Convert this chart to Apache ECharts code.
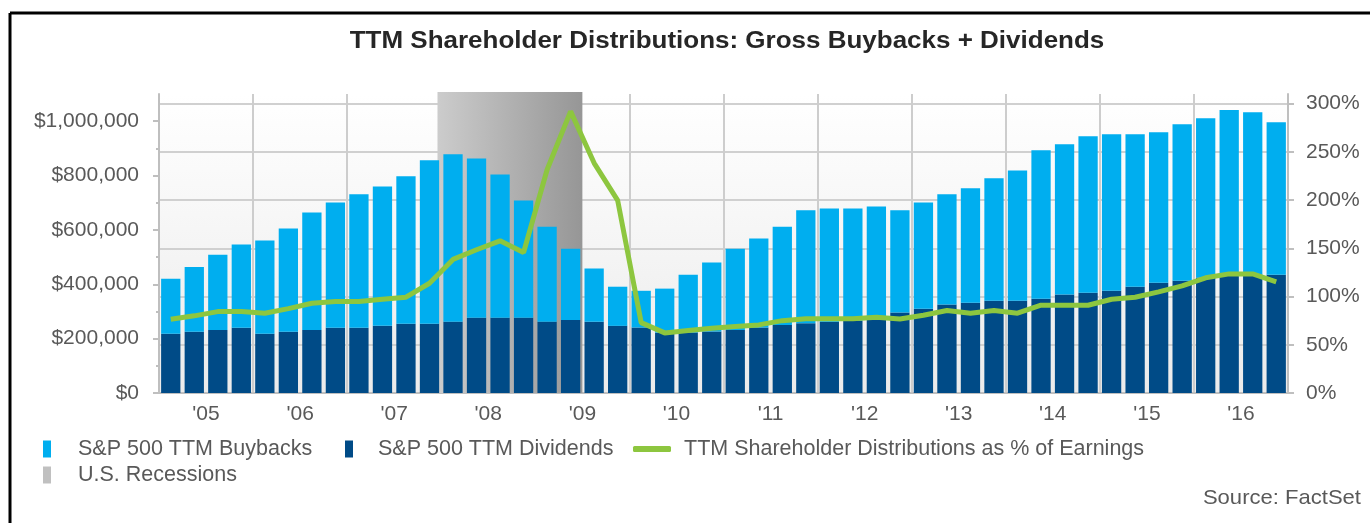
<!DOCTYPE html>
<html>
<head>
<meta charset="utf-8">
<script src="https://cdn.jsdelivr.net/npm/echarts@6/dist/echarts.min.js"></script>
<style>
  html, body { margin: 0; padding: 0; background: #fff; }
  #chart { width: 1370px; height: 523px; }
</style>
</head>
<body>
<div id="chart"></div>
<script>
// quarterly categories, 1Q05 .. 4Q16
const quarters = [
  '1Q05','2Q05','3Q05','4Q05','1Q06','2Q06','3Q06','4Q06',
  '1Q07','2Q07','3Q07','4Q07','1Q08','2Q08','3Q08','4Q08',
  '1Q09','2Q09','3Q09','4Q09','1Q10','2Q10','3Q10','4Q10',
  '1Q11','2Q11','3Q11','4Q11','1Q12','2Q12','3Q12','4Q12',
  '1Q13','2Q13','3Q13','4Q13','1Q14','2Q14','3Q14','4Q14',
  '1Q15','2Q15','3Q15','4Q15','1Q16','2Q16','3Q16','4Q16'
];
const yearLabels = ["'05","'06","'07","'08","'09","'10","'11","'12","'13","'14","'15","'16"];

// TTM dividends and buybacks, $ (millions in source)
const dividends = [
  218000, 225000, 232000, 240000, 218000, 225000, 232000, 240000,
  240000, 247000, 255000, 255000, 262000, 277000, 277000, 277000,
  262000, 269000, 262000, 247000, 241000, 222000, 223000, 226000,
  232000, 241000, 250000, 257000, 262000, 266000, 272000, 296000,
  310000, 326000, 332000, 339000, 339000, 347000, 362000, 369000,
  376000, 391000, 406000, 413000, 425000, 435000, 435000, 435000
];
const buybacks = [
  202000, 239000, 277000, 306000, 343000, 380000, 432000, 461000,
  491000, 513000, 542000, 601000, 616000, 586000, 527000, 431000,
  350000, 262000, 196000, 144000, 135000, 162000, 212000, 254000,
  299000, 327000, 362000, 415000, 417000, 413000, 414000, 376000,
  391000, 405000, 421000, 451000, 480000, 546000, 553000, 576000,
  576000, 561000, 553000, 576000, 586000, 606000, 598000, 561000
];
// distributions as % of earnings
const pctEarnings = [
  76.5, 80, 84.4, 84.4, 82.7, 87.5, 93, 94.8,
  94.8, 97.2, 99.3, 113.8, 138.5, 148.5, 157.8, 145.7,
  231.5, 292, 238.4, 199.7, 73, 62.3, 64.7, 67.1,
  68.9, 70.6, 75, 77.1, 77.1, 77.1, 78.5, 76.8,
  80.6, 85.5, 82.7, 85.5, 82.7, 91, 91, 91,
  97.2, 99.3, 104.8, 111, 119.4, 123.5, 123.5, 115.2
];
// recession span in fractional years
const recession = [2007.96, 2009.5];

const leftTicks = [0, 200000, 400000, 600000, 800000, 1000000];
const rightTicks = [0, 50, 100, 150, 200, 250, 300];

const FONT = 'Liberation Sans, Arial, sans-serif';
const LABEL = '#595959';
const AXIS = '#bfbfbf';

const chart = echarts.init(document.getElementById('chart'));

function money(v) {
  return '$' + String(v).replace(/\B(?=(\d{3})+(?!\d))/g, ',');
}

const legendBase = {
  orient: 'horizontal',
  selectedMode: false,
  itemGap: 0,
  padding: 0,
  textStyle: { color: LABEL, fontSize: 21.5, fontFamily: FONT }
};

function legendAt(name, icon, left, top, w, h, pad) {
  return Object.assign({}, legendBase, {
    left: left, top: top, itemWidth: w, itemHeight: h,
    data: [{ name: name, icon: icon }],
    textStyle: Object.assign({}, legendBase.textStyle, { padding: [0, 0, 0, pad] })
  });
}

chart.setOption({
  animation: false,
  textStyle: { fontFamily: FONT },
  grid: {
    left: 159, right: 82, top: 94, bottom: 130,
    show: true, borderWidth: 0,
    backgroundColor: new echarts.graphic.LinearGradient(0, 0, 0, 1, [
      { offset: 0, color: '#ffffff' },
      { offset: 1, color: '#ebebeb' }
    ])
  },
  graphic: [
    { type: 'line', shape: { x1: 10, y1: 13, x2: 1372, y2: 13 }, style: { stroke: '#000', lineWidth: 3 } },
    { type: 'line', shape: { x1: 10, y1: 13, x2: 10, y2: 525 }, style: { stroke: '#000', lineWidth: 3 } },
    {
      type: 'text', x: 727, y: 42, scaleX: 1.13,
      style: {
        text: 'TTM Shareholder Distributions: Gross Buybacks + Dividends',
        fontSize: 23, fontWeight: 'bold', fontFamily: FONT, fill: '#262626',
        textAlign: 'center', textVerticalAlign: 'middle'
      }
    },
    {
      type: 'text', x: 1361, y: 498, scaleX: 1.05,
      style: {
        text: 'Source: FactSet', fontSize: 21, fontFamily: FONT, fill: LABEL,
        textAlign: 'right', textVerticalAlign: 'middle'
      }
    }
  ],
  legend: [
    legendAt('S&P 500 TTM Buybacks', 'rect', 43, 438, 8, 17, 22),
    legendAt('S&P 500 TTM Dividends', 'rect', 345, 438, 8, 17, 20),
    legendAt('TTM Shareholder Distributions as % of Earnings', 'roundRect', 633, 438, 38, 6, 8),
    legendAt('U.S. Recessions', 'rect', 43, 464, 8, 17, 22)
  ],
  xAxis: [
    {
      type: 'category', data: quarters, position: 'bottom', boundaryGap: true,
      axisLine: { lineStyle: { color: AXIS, width: 2 } },
      axisTick: { interval: 3, length: 6, lineStyle: { color: AXIS, width: 2 } },
      axisLabel: { show: false },
      splitLine: { show: true, interval: 3, lineStyle: { color: '#cdcdcd', width: 2 } }
    },
    {
      type: 'category', data: yearLabels, position: 'bottom', boundaryGap: true,
      axisLine: { show: false }, axisTick: { show: false },
      axisLabel: { margin: 11, color: LABEL, fontSize: 21, fontFamily: FONT },
      splitLine: { show: false }
    },
    { type: 'value', min: 2005, max: 2017, show: false, position: 'top' }
  ],
  yAxis: [
    {
      type: 'value', position: 'left', min: 0, max: 1100000, interval: 200000,
      axisLine: { show: true, lineStyle: { color: AXIS, width: 2 } },
      axisTick: { show: true, length: 6, customValues: leftTicks, lineStyle: { color: AXIS, width: 2 } },
      minorTick: { show: true, splitNumber: 2, length: 3, lineStyle: { color: AXIS, width: 2 } },
      axisLabel: {
        margin: 20, color: LABEL, fontSize: 21, fontFamily: FONT,
        formatter: v => (v > 1000000 ? '' : money(v))
      },
      splitLine: { show: false }
    },
    {
      type: 'value', position: 'right', min: 0, max: 310, interval: 50,
      axisLine: { show: true, lineStyle: { color: AXIS, width: 2 } },
      axisTick: { show: true, length: 6, customValues: rightTicks, lineStyle: { color: AXIS, width: 2 } },
      axisLabel: {
        margin: 18, color: LABEL, fontSize: 21, fontFamily: FONT,
        formatter: v => (v > 300 ? '' : v + '%')
      },
      splitLine: { show: true, lineStyle: { color: '#d0d0d0', width: 2 } }
    }
  ],
  series: [
    {
      name: 'U.S. Recessions', type: 'custom', xAxisIndex: 2, yAxisIndex: 0,
      z: 1, silent: true,
      itemStyle: { color: '#c0c0c0' },
      data: [recession],
      renderItem: function (params, api) {
        const p0 = api.coord([api.value(0), 1100000]);
        const p1 = api.coord([api.value(1), 0]);
        return {
          type: 'rect',
          shape: { x: p0[0], y: p0[1] - 2, width: p1[0] - p0[0], height: p1[1] - p0[1] + 2 },
          style: {
            fill: new echarts.graphic.LinearGradient(0, 0, 1, 0, [
              { offset: 0, color: '#cccccc' },
              { offset: 1, color: '#969696' }
            ])
          }
        };
      }
    },
    {
      name: 'S&P 500 TTM Dividends', type: 'bar', stack: 'dist',
      barWidth: '82%', z: 2,
      itemStyle: { color: '#004b87' },
      data: dividends
    },
    {
      name: 'S&P 500 TTM Buybacks', type: 'bar', stack: 'dist',
      barWidth: '82%', z: 2,
      itemStyle: { color: '#00aeef' },
      data: buybacks
    },
    {
      name: 'TTM Shareholder Distributions as % of Earnings', type: 'line', yAxisIndex: 1,
      z: 5, symbol: 'none', showSymbol: false,
      itemStyle: { color: '#8dc63f' },
      lineStyle: { color: '#8dc63f', width: 5 },
      data: pctEarnings
    }
  ]
});
</script>
</body>
</html>
